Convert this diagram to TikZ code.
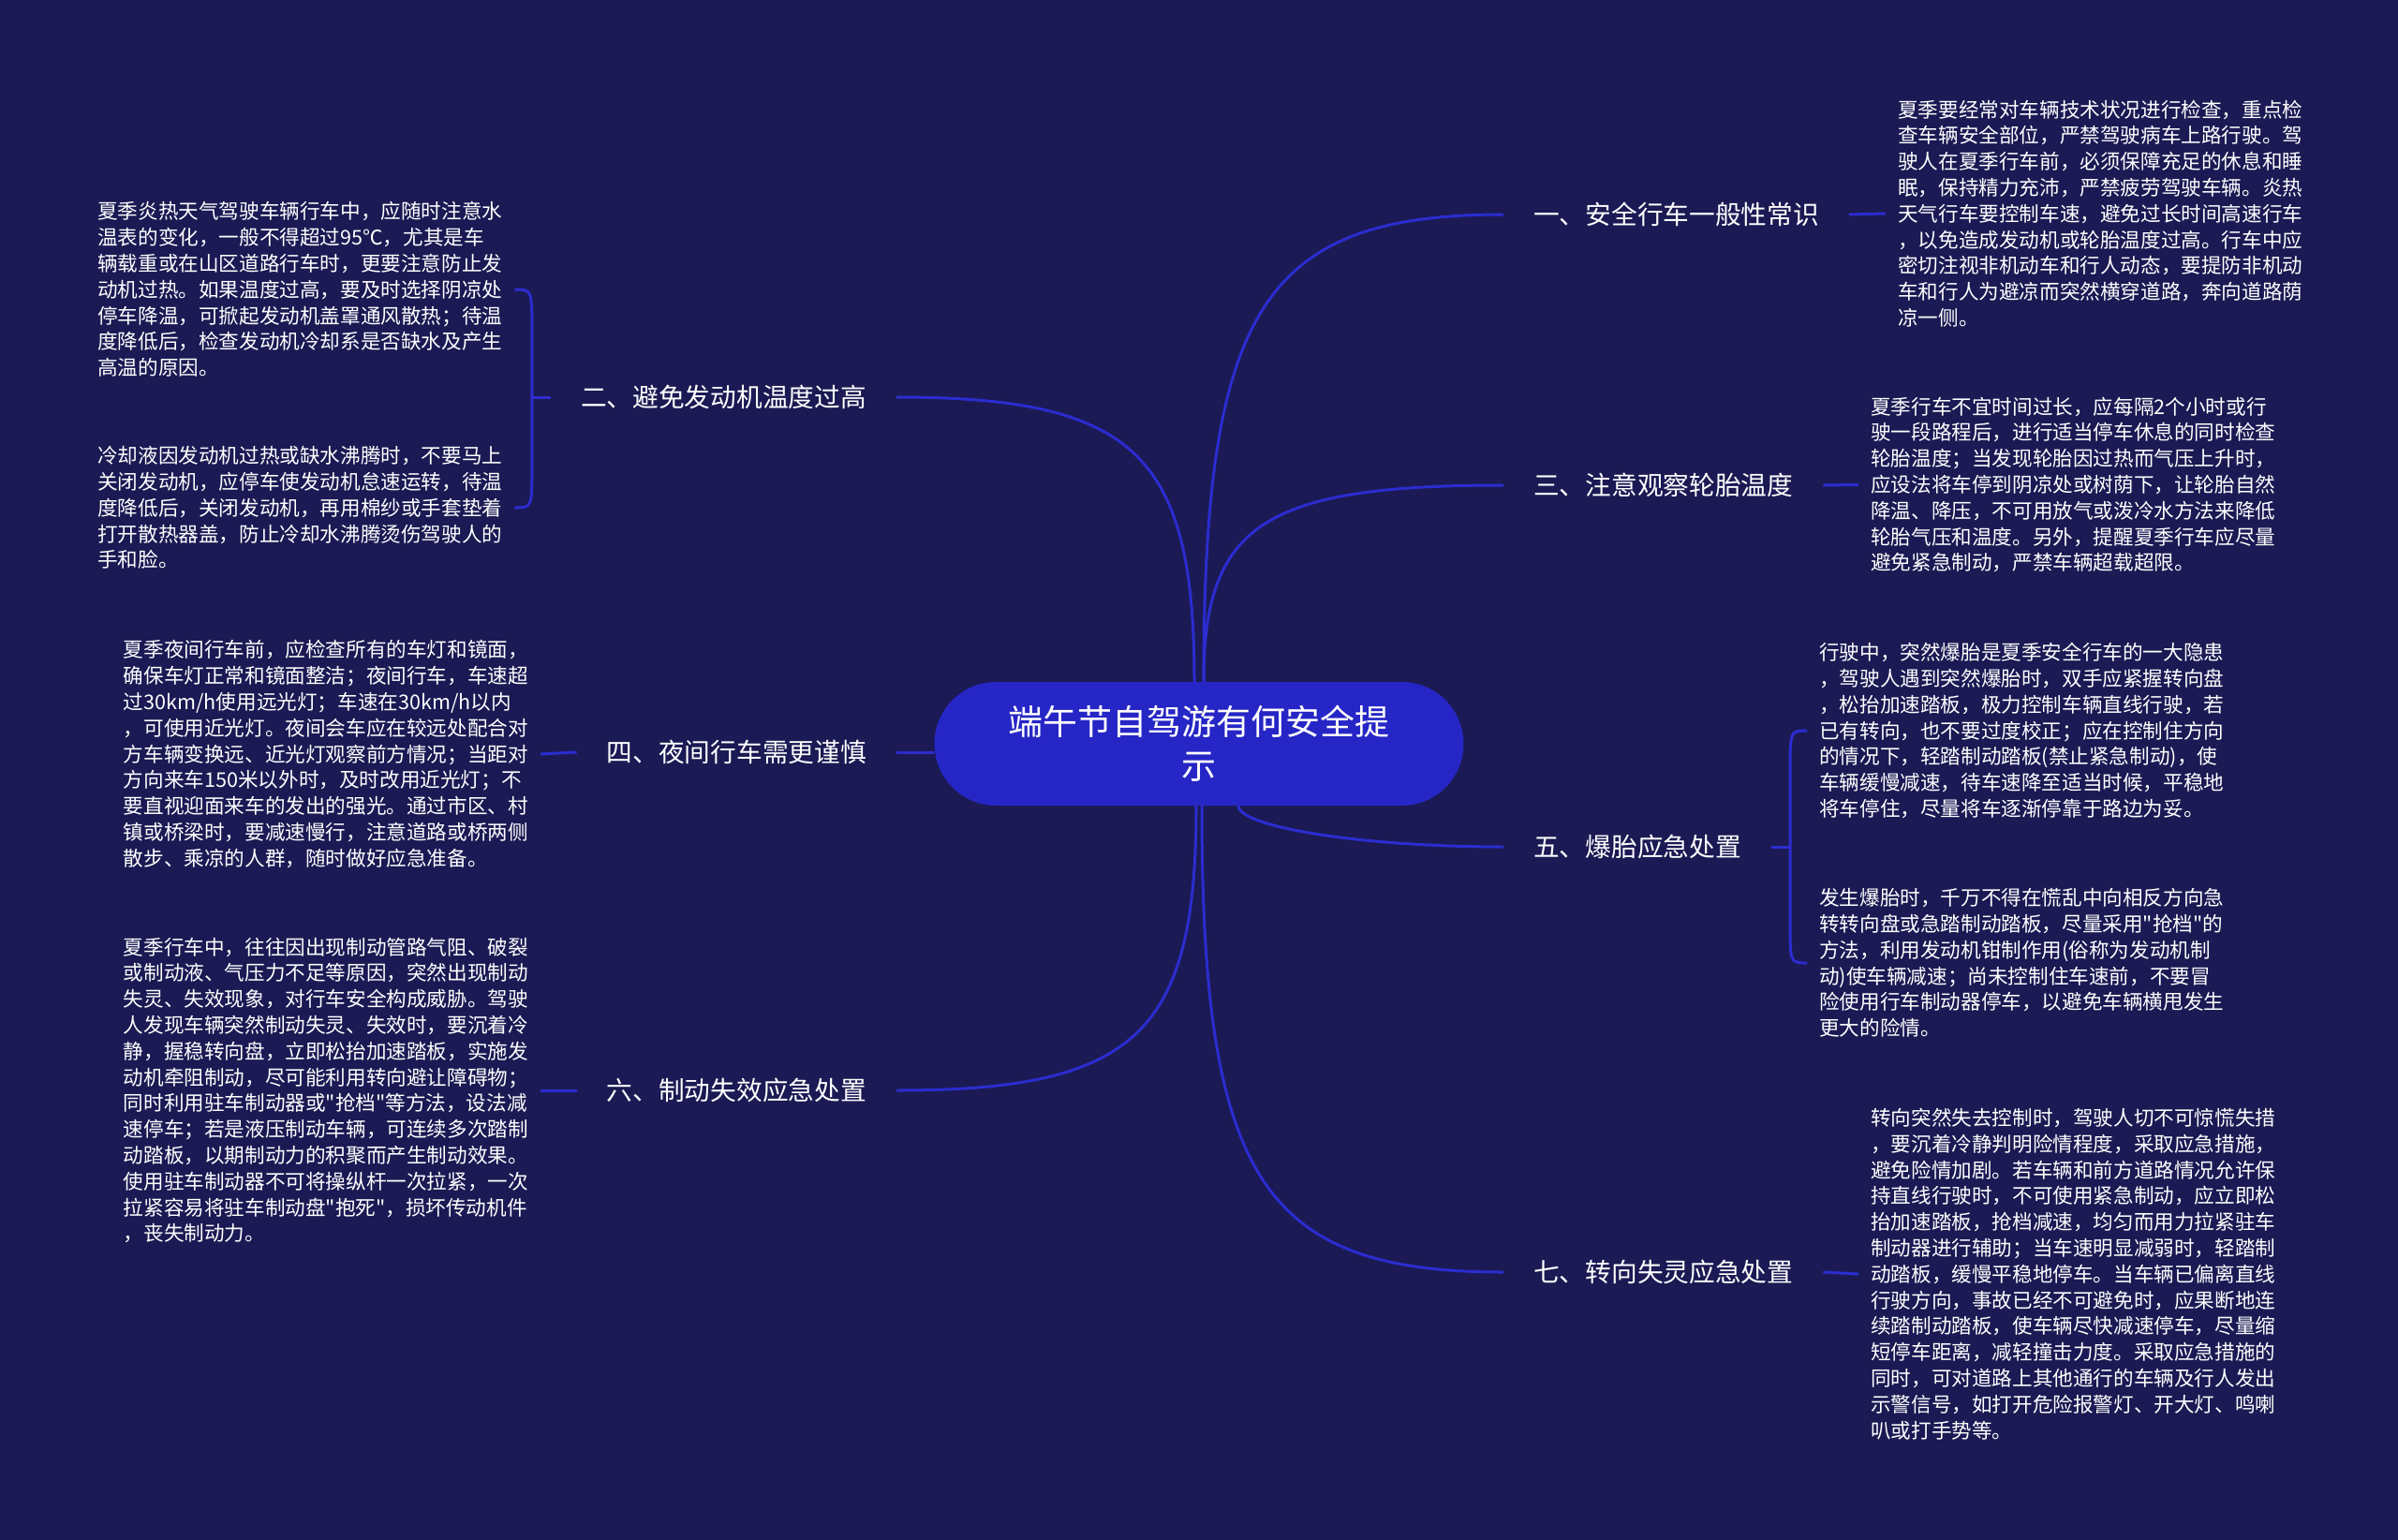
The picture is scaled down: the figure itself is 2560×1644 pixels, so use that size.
\documentclass[tikz,border=0pt]{standalone}
\usepackage{fontspec}
\setmainfont{Noto Sans CJK SC}[Ligatures=TeXOff]
\usetikzlibrary{backgrounds,calc}
\definecolor{bgc}{RGB}{27,26,84}
\definecolor{linec}{RGB}{44,44,208}
\definecolor{hubc}{RGB}{38,38,198}
\begin{document}
\begin{tikzpicture}[x=1pt,y=-1pt,
  conn/.style={draw=linec,line width=3pt},
  hub/.style={fill=hubc,rounded corners=66pt,minimum width=565pt,minimum height=132pt,inner sep=0pt,text=white,align=center,font=\fontsize{37}{47}\selectfont},
  branch/.style={text=white,font=\fontsize{27.7}{34}\selectfont,inner xsep=32pt,inner ysep=6pt},
  body/.style={text=white,font=\fontsize{21.6}{27.8}\selectfont,align=left,inner xsep=13pt,inner ysep=0pt}]
\useasboundingbox (0,0) rectangle (2560,1644);
\begin{pgfonlayer}{background}
\fill[bgc] (0,0) rectangle (2560,1644);
\end{pgfonlayer}

\node[hub] (c) at (1280,794) {端午节自驾游有何安全提\\示};

\node[branch,anchor=west] (l1) at (1605,229) {一、安全行车一般性常识};
\node[branch,anchor=west] (l3) at (1605,518) {三、注意观察轮胎温度};
\node[branch,anchor=west] (l5) at (1605,904) {五、爆胎应急处置};
\node[branch,anchor=west] (l7) at (1605,1358) {七、转向失灵应急处置};
\node[branch,anchor=east] (l2) at (957,424) {二、避免发动机温度过高};
\node[branch,anchor=east] (l4) at (957,803) {四、夜间行车需更谨慎};
\node[branch,anchor=east] (l6) at (957,1164) {六、制动失效应急处置};

\node[body,anchor=west] (t1) at (2013,228) {夏季要经常对车辆技术状况进行检查，重点检\\查车辆安全部位，严禁驾驶病车上路行驶。驾\\驶人在夏季行车前，必须保障充足的休息和睡\\眠，保持精力充沛，严禁疲劳驾驶车辆。炎热\\天气行车要控制车速，避免过长时间高速行车\\，以免造成发动机或轮胎温度过高。行车中应\\密切注视非机动车和行人动态，要提防非机动\\车和行人为避凉而突然横穿道路，奔向道路荫\\凉一侧。};
\node[body,anchor=west] (t3) at (1984,517.5) {夏季行车不宜时间过长，应每隔2个小时或行\\驶一段路程后，进行适当停车休息的同时检查\\轮胎温度；当发现轮胎因过热而气压上升时，\\应设法将车停到阴凉处或树荫下，让轮胎自然\\降温、降压，不可用放气或泼冷水方法来降低\\轮胎气压和温度。另外，提醒夏季行车应尽量\\避免紧急制动，严禁车辆超载超限。};
\node[body,anchor=west] (t5a) at (1929,780) {行驶中，突然爆胎是夏季安全行车的一大隐患\\，驾驶人遇到突然爆胎时，双手应紧握转向盘\\，松抬加速踏板，极力控制车辆直线行驶，若\\已有转向，也不要过度校正；应在控制住方向\\的情况下，轻踏制动踏板(禁止紧急制动)，使\\车辆缓慢减速，待车速降至适当时候，平稳地\\将车停住，尽量将车逐渐停靠于路边为妥。};
\node[body,anchor=west] (t5b) at (1929,1028) {发生爆胎时，千万不得在慌乱中向相反方向急\\转转向盘或急踏制动踏板，尽量采用"抢档"的\\方法，利用发动机钳制作用(俗称为发动机制\\动)使车辆减速；尚未控制住车速前，不要冒\\险使用行车制动器停车，以避免车辆横甩发生\\更大的险情。};
\node[body,anchor=west] (t7) at (1984,1360) {转向突然失去控制时，驾驶人切不可惊慌失措\\，要沉着冷静判明险情程度，采取应急措施，\\避免险情加剧。若车辆和前方道路情况允许保\\持直线行驶时，不可使用紧急制动，应立即松\\抬加速踏板，抢档减速，均匀而用力拉紧驻车\\制动器进行辅助；当车速明显减弱时，轻踏制\\动踏板，缓慢平稳地停车。当车辆已偏离直线\\行驶方向，事故已经不可避免时，应果断地连\\续踏制动踏板，使车辆尽快减速停车，尽量缩\\短停车距离，减轻撞击力度。采取应急措施的\\同时，可对道路上其他通行的车辆及行人发出\\示警信号，如打开危险报警灯、开大灯、鸣喇\\叭或打手势等。};
\node[body,anchor=west] (t2a) at (91,309) {夏季炎热天气驾驶车辆行车中，应随时注意水\\温表的变化，一般不得超过95℃，尤其是车\\辆载重或在山区道路行车时，更要注意防止发\\动机过热。如果温度过高，要及时选择阴凉处\\停车降温，可掀起发动机盖罩通风散热；待温\\度降低后，检查发动机冷却系是否缺水及产生\\高温的原因。};
\node[body,anchor=west] (t2b) at (91,542) {冷却液因发动机过热或缺水沸腾时，不要马上\\关闭发动机，应停车使发动机怠速运转，待温\\度降低后，关闭发动机，再用棉纱或手套垫着\\打开散热器盖，防止冷却水沸腾烫伤驾驶人的\\手和脸。};
\node[body,anchor=west] (t4) at (118.7,805) {夏季夜间行车前，应检查所有的车灯和镜面，\\确保车灯正常和镜面整洁；夜间行车，车速超\\过30km/h使用远光灯；车速在30km/h以内\\，可使用近光灯。夜间会车应在较远处配合对\\方车辆变换远、近光灯观察前方情况；当距对\\方向来车150米以外时，及时改用近光灯；不\\要直视迎面来车的发出的强光。通过市区、村\\镇或桥梁时，要减速慢行，注意道路或桥两侧\\散步、乘凉的人群，随时做好应急准备。};
\node[body,anchor=west] (t6) at (118.7,1164) {夏季行车中，往往因出现制动管路气阻、破裂\\或制动液、气压力不足等原因，突然出现制动\\失灵、失效现象，对行车安全构成威胁。驾驶\\人发现车辆突然制动失灵、失效时，要沉着冷\\静，握稳转向盘，立即松抬加速踏板，实施发\\动机牵阻制动，尽可能利用转向避让障碍物；\\同时利用驻车制动器或"抢档"等方法，设法减\\速停车；若是液压制动车辆，可连续多次踏制\\动踏板，以期制动力的积聚而产生制动效果。\\使用驻车制动器不可将操纵杆一次拉紧，一次\\拉紧容易将驻车制动盘"抱死"，损坏传动机件\\，丧失制动力。};

\coordinate (su) at ([xshift=5pt]c.north);
\coordinate (sul) at ([xshift=-5pt]c.north);
\coordinate (sd) at ([xshift=3pt]c.south);
\coordinate (sdl) at ([xshift=-3pt]c.south);
\coordinate (s5) at ([xshift=42pt]c.south);
\coordinate (b2) at ([xshift=-20pt]l2.west);
\coordinate (b5) at ([xshift=20pt]l5.east);

\begin{pgfonlayer}{background}
\draw[conn] (su) .. controls ($(su)!0.8!(su|-l1.west)$) and ($(su|-l1.west)!0.2!(l1.west)$) .. (l1.west);
\draw[conn] (su) .. controls ($(su)!0.8!(su|-l3.west)$) and ($(su|-l3.west)!0.2!(l3.west)$) .. (l3.west);
\draw[conn] (sul) .. controls ($(sul)!0.8!(sul|-l2.east)$) and ($(sul|-l2.east)!0.2!(l2.east)$) .. (l2.east);
\draw[conn] (s5) .. controls ($(s5)!0.5!(s5|-l5.west)$) and ($(s5|-l5.west)!0.45!(l5.west)$) .. (l5.west);
\draw[conn] (sd) .. controls ($(sd)!0.8!(sd|-l7.west)$) and ($(sd|-l7.west)!0.2!(l7.west)$) .. (l7.west);
\draw[conn] (sdl) .. controls ($(sdl)!0.8!(sdl|-l6.east)$) and ($(sdl|-l6.east)!0.2!(l6.east)$) .. (l6.east);
\draw[conn] (l4.east) -- (l4.east -| c.west);

\draw[conn] (l1.east) -- (t1.west);
\draw[conn] (l3.east) -- (t3.west);
\draw[conn] (l7.east) -- (t7.west);
\draw[conn] (l4.west) -- (t4.east);
\draw[conn] (l6.west) -- (t6.east);

\draw[conn] (l2.west) -- (b2);
\draw[conn] (t2a.east) .. controls (b2 |- t2a.east) .. ([yshift=-45pt]b2 |- t2a.east) -- ([yshift=45pt]b2 |- t2b.east) .. controls (b2 |- t2b.east) .. (t2b.east);
\draw[conn] (l5.east) -- (b5);
\draw[conn] (t5a.west) .. controls (b5 |- t5a.west) .. ([yshift=-45pt]b5 |- t5a.west) -- ([yshift=45pt]b5 |- t5b.west) .. controls (b5 |- t5b.west) .. (t5b.west);
\end{pgfonlayer}
\end{tikzpicture}
\end{document}
